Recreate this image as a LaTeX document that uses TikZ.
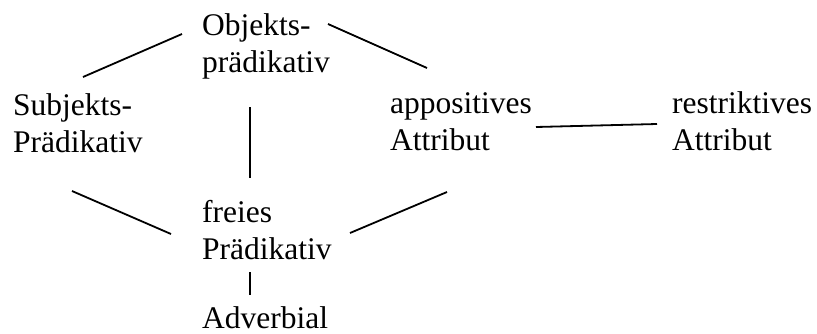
\documentclass[tikz,border=0pt]{standalone}
\usepackage{fontspec}
\setmainfont{Liberation Serif}
\usetikzlibrary{calc}

\tikzset{
  term/.style={align=left, inner sep=0pt, anchor=base west,
    font=\fontsize{31.5}{37}\selectfont},
  link/.style={line width=1.8pt}
}

\begin{document}
\begin{tikzpicture}[x=1pt,y=-1pt]
\useasboundingbox (0,0) rectangle (817,333);

% base anchors sit on the last line
\node[term] (obj) at (202,72) {Objekts-\\prädikativ};
\node[term] (subj) at (13,152) {Subjekts-\\Prädikativ};
\node[term] (appos) at (390,150) {appositives\\Attribut};
\node[term] (restr) at (672,150) {restriktives\\Attribut};
\node[term] (frei) at (202,259) {freies\\Prädikativ};
\node[term] (adv) at (202,328) {Adverbial};

\draw[link] ($(subj.base west)+(70,-75)$) -- ($(obj.base west)+(-20,-38)$);
\draw[link] ($(obj.base west)+(126,-48)$) -- ($(appos.base west)+(37,-82)$);
\draw[link] ($(obj.base west)+(48,35)$) -- ($(frei.base west)+(48,-81)$);
\draw[link] ($(subj.base west)+(59,39)$) -- ($(frei.base west)+(-31,-25)$);
\draw[link] ($(frei.base west)+(148,-26)$) -- ($(appos.base west)+(57,42)$);
\draw[link] ($(appos.base west)+(146,-23)$) -- ($(restr.base west)+(-15,-26)$);
\draw[link] ($(frei.base west)+(48,13)$) -- ($(adv.base west)+(48,-33)$);% short stem

\end{tikzpicture}
\end{document}
